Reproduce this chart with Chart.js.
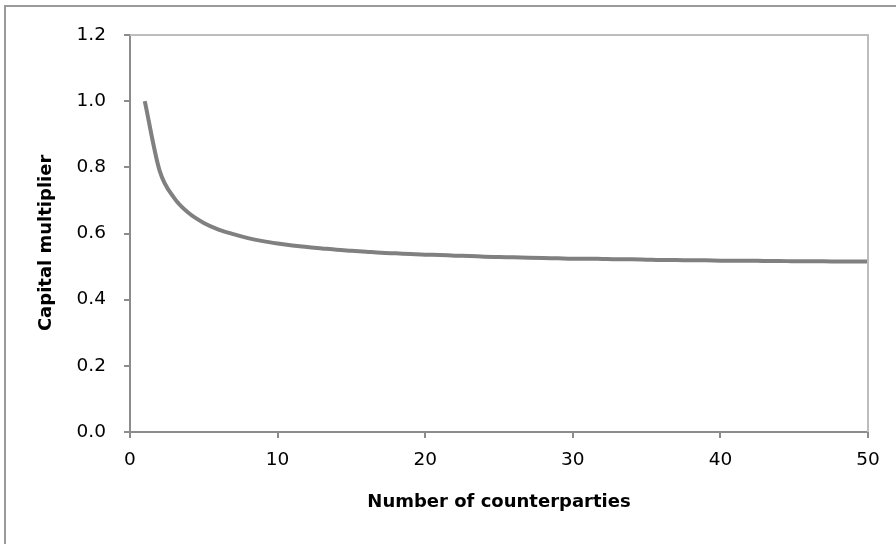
<!DOCTYPE html>
<html>
<head>
<meta charset="utf-8">
<script src="https://cdn.jsdelivr.net/npm/chart.js@4.4.0/dist/chart.umd.min.js"></script>
<style>
  html, body { margin: 0; padding: 0; background: #ffffff; }
  #wrap { position: relative; width: 896px; height: 544px; overflow: hidden; }
  #frame { position: absolute; left: 4px; top: 5px; width: 1000px; height: 1000px;
           border-left: 2px solid #9a9a9a; border-top: 2px solid #9a9a9a; pointer-events: none; }
  canvas { position: absolute; left: 0; top: 0; }
</style>
</head>
<body>
<div id="wrap">
  <canvas id="c" width="896" height="544"></canvas>
  <div id="frame"></div>
</div>
<script>
// Number of counterparties (x) and capital multiplier (y)
const counterparties = [1,2,3,4,5,6,7,8,9,10,11,12,13,14,15,16,17,18,19,20,21,22,23,24,25,
  26,27,28,29,30,31,32,33,34,35,36,37,38,39,40,41,42,43,44,45,46,47,48,49,50];
const capitalMultiplier = [1.000,0.791,0.707,0.661,0.632,0.612,0.598,0.586,0.577,0.570,
  0.564,0.559,0.555,0.551,0.548,0.545,0.542,0.540,0.538,0.536,
  0.535,0.533,0.532,0.530,0.529,0.528,0.527,0.526,0.525,0.524,
  0.524,0.523,0.522,0.522,0.521,0.520,0.520,0.519,0.519,0.518,
  0.518,0.518,0.517,0.517,0.516,0.516,0.516,0.515,0.515,0.515];
const xTicks = [0,10,20,30,40,50];
const yTicks = [0.0,0.2,0.4,0.6,0.8,1.0,1.2];
const xTitle = 'Number of counterparties';
const yTitle = 'Capital multiplier';

const points = counterparties.map((x, i) => ({ x: x, y: capitalMultiplier[i] }));

const frameBorder = {
  id: 'frameBorder',
  afterDraw(chart) {
    const a = chart.chartArea, ctx = chart.ctx;
    ctx.save();
    ctx.strokeStyle = '#bdbdbd';
    ctx.lineWidth = 2;
    ctx.beginPath();
    ctx.moveTo(a.left, a.top);
    ctx.lineTo(a.right, a.top);
    ctx.lineTo(a.right, a.bottom);
    ctx.stroke();
    ctx.restore();
  }
};

const tickFont = { family: '"DejaVu Sans", sans-serif', size: 18.5 };
const titleFont = { family: '"DejaVu Sans", sans-serif', size: 18, weight: 'bold' };

new Chart(document.getElementById('c'), {
  type: 'line',
  data: {
    datasets: [{
      data: points,
      borderColor: '#808080',
      borderWidth: 4,
      pointRadius: 0,
      fill: false,
      cubicInterpolationMode: 'monotone'
    }]
  },
  options: {
    responsive: false,
    animation: false,
    plugins: { legend: { display: false }, tooltip: { enabled: false } },
    layout: { padding: { left: 0, top: 35, right: 28, bottom: 0 } },
    scales: {
      x: {
        type: 'linear',
        min: 0, max: 50,
        afterBuildTicks(s) { s.ticks = xTicks.map(v => ({ value: v })); },
        afterFit(s) { s.height = 112; },
        grid: { display: true, drawOnChartArea: false, drawTicks: true, tickLength: 6, color: '#8c8c8c', lineWidth: 2 },
        border: { display: true, color: '#8c8c8c', width: 2 },
        ticks: { color: '#000', font: tickFont, padding: 11, maxRotation: 0,
                 callback: v => String(v) },
        title: { display: true, text: xTitle, color: '#000', font: titleFont,
                 padding: { top: 0, bottom: 31 } }
      },
      y: {
        type: 'linear',
        min: 0, max: 1.2,
        afterBuildTicks(s) { s.ticks = yTicks.map(v => ({ value: v })); },
        afterFit(s) { s.width = 130; },
        grid: { display: true, drawOnChartArea: false, drawTicks: true, tickLength: 6, color: '#8c8c8c', lineWidth: 2 },
        border: { display: true, color: '#8c8c8c', width: 2 },
        ticks: { color: '#000', font: tickFont, padding: 18,
                 callback: v => Number(v).toFixed(1) },
        title: { display: true, text: yTitle + '\u00a0\u00a0\u00a0', color: '#000', font: titleFont,
                 padding: { top: 36, bottom: 0 } }
      }
    }
  },
  plugins: [frameBorder]
});
</script>
</body>
</html>
